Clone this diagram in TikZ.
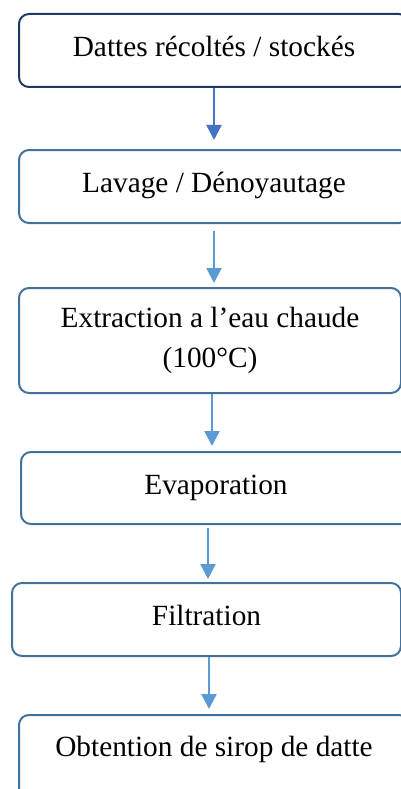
\documentclass[tikz,border=0pt]{standalone}
\usepackage{fontspec}
\setmainfont{Liberation Serif}
\usetikzlibrary{arrows.meta}
\definecolor{navyline}{HTML}{203864}
\definecolor{steelline}{HTML}{41719C}
\definecolor{arrowdark}{HTML}{4472C4}
\definecolor{arrowlight}{HTML}{5B9BD5}
\begin{document}
\begin{tikzpicture}[
    x=1pt, y=1pt,
    procbox/.style={rectangle, rounded corners=10pt, draw=steelline, line width=2pt, minimum width=390pt, minimum height=73pt, inner sep=0pt, text height=20pt, text depth=8pt, align=center, font=\fontsize{29.3}{39.5}\selectfont},
    flow/.style={draw=arrowlight, fill=arrowlight, line width=2.4pt, -{Triangle[width=15pt,length=15pt]}}
    ]
    \useasboundingbox (0,0) rectangle (401,-789);
    \clip (0,0) rectangle (401,-789);
    % etapes
    \node[procbox, draw=navyline] (recolte) at (214,-50.5) {Dattes récoltés / stockés};
    \node[procbox] (lavage) at (214,-186.5) {Lavage / Dénoyautage};
    \node[procbox, minimum width=382pt, minimum height=105pt, text height={}, text depth={}] (extraction) at (210,-340.5) {Extraction a l’eau chaude\\(100°C)};
    \node[procbox, minimum height=72pt] (evaporation) at (216,-488) {Evaporation};
    \node[procbox, minimum width=389pt] (filtration) at (206.5,-619.5) {Filtration};
    \node[procbox, anchor=north, minimum height=100pt, text depth=38pt] (obtention) at (214,-714) {Obtention de sirop de datte};
    % fleches
    \draw[flow, draw=arrowdark, fill=arrowdark] (recolte.south) -- ([yshift=9pt]lavage.north);
    \draw[flow] ([yshift=-7pt]lavage.south) -- ([yshift=4pt]lavage.south |- extraction.north);
    \draw[flow] ([xshift=2pt]extraction.south) -- ([xshift=2pt,yshift=5pt]extraction.south |- evaporation.north);
    \draw[flow] ([xshift=-8pt,yshift=-3pt]evaporation.south) -- ([xshift=-8pt,yshift=3pt]evaporation.south |- filtration.north);
    \draw[flow] ([xshift=2.5pt]filtration.south) -- ([xshift=2.5pt,yshift=5pt]filtration.south |- obtention.north);
\end{tikzpicture}
\end{document}
